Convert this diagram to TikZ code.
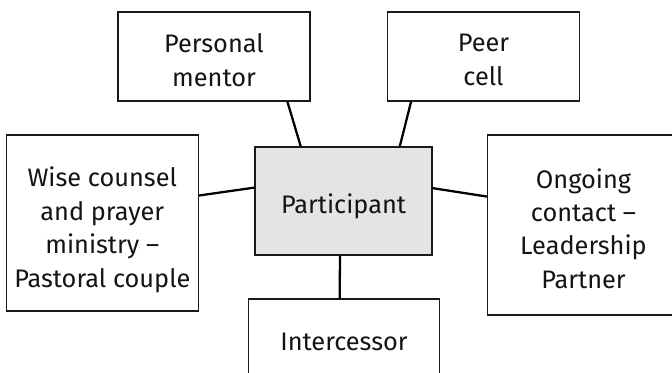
\documentclass[tikz,border=0pt]{standalone}
\usepackage{fontspec}
\setmainfont{Fira Sans}
\usetikzlibrary{calc}
\definecolor{hubfill}{HTML}{E4E4E4}
\definecolor{edge}{HTML}{1A1A1A}
\tikzset{
  frame/.style={draw=edge, line width=0.8pt, rectangle, inner sep=0pt},
  hub/.style={frame, fill=hubfill},
  lbl/.style={inner sep=0pt, align=center, text=black!92,
    font=\fontsize{19pt}{25.1pt}\selectfont},
  link/.style={draw=black, line width=1.7pt}
}
\begin{document}
\begin{tikzpicture}[x=0.75pt, y=-0.75pt]
  \clip (0,0) rectangle (672,373);
  \fill[white] (0,0) rectangle (672,373);

  % centre node
  \node[hub, minimum width=177*0.75pt, minimum height=108*0.75pt] (pa) at (343.5,201) {};

  % surrounding frames
  \node[frame, minimum width=192*0.75pt, minimum height=89*0.75pt] (pm) at (214,56.5) {};
  \node[frame, minimum width=192*0.75pt, minimum height=89*0.75pt] (pc) at (483.5,56.5) {};
  \node[frame, minimum width=192*0.75pt, minimum height=176*0.75pt] (wc) at (102.3,223) {};
  \node[frame, minimum width=192*0.75pt, minimum height=180*0.75pt] (og) at (583.5,225) {};
  \node[frame, minimum width=191*0.75pt, minimum height=88*0.75pt] (ic) at (344,343) {};

  % texts, each set just below its frame's centre
  \node[lbl] (pat) at ($(pa.center)+(0,5.5)$) {Participant};
  \node[lbl] (pmt) at ($(pm.center)+(0,3.5)$) {Personal\\mentor};
  \node[lbl] (pct) at ($(pc.center)+(0,3.5)$) {Peer\\cell};
  \node[lbl] (wct) at ($(wc.center)+(0,7)$) {Wise counsel\\and prayer\\ministry –\\Pastoral couple};
  \node[lbl] (ogt) at ($(og.center)+(0,3.5)$) {Ongoing\\contact –\\Leadership\\Partner};
  \node[lbl] (ict) at ($(ic.center)+(0,-1.5)$) {Intercessor};

  % connectors
  \draw[link] ($(pm.south west)!0.88!(pm.south east)$) -- ($(pa.north west)!0.26!(pa.north east)$);
  \draw[link] ($(pc.south west)!0.125!(pc.south east)$) -- ($(pa.north west)!0.816!(pa.north east)$);
  \draw[link] ($(wc.north east)!0.345!(wc.south east)$) -- ($(pa.north west)!0.377!(pa.south west)$);
  \draw[link] ($(og.north west)!0.343!(og.south west)$) -- ($(pa.north east)!0.382!(pa.south east)$);
  \draw[link] ($(pa.south west)!0.48!(pa.south east)$) -- ($(ic.north west)!0.478!(ic.north east)$);
\end{tikzpicture}
\end{document}
